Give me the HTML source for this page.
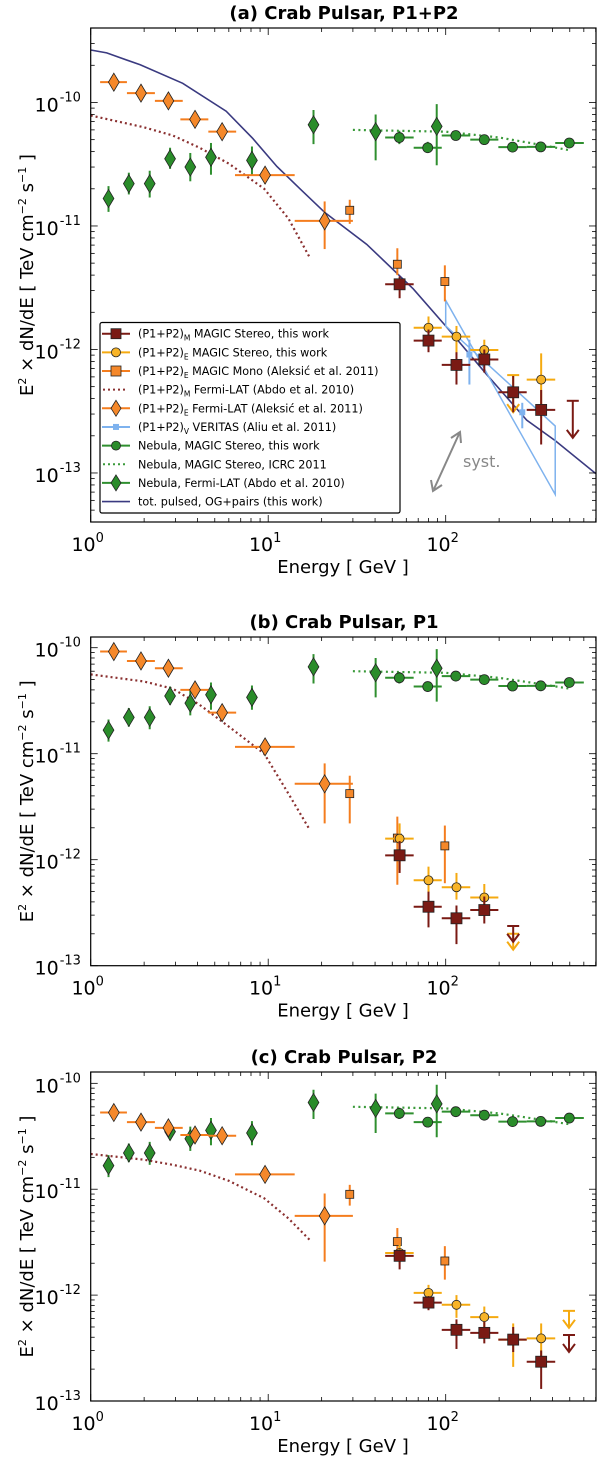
<!DOCTYPE html>
<html><head><meta charset="utf-8"><title>Crab Pulsar spectra</title>
<style>
html,body{margin:0;padding:0;background:#fff;}
svg{display:block;font-family:"DejaVu Sans","Liberation Sans",sans-serif;}
</style></head>
<body>
<svg id="chart" width="600" height="1458" viewBox="0 0 600 1458" xmlns="http://www.w3.org/2000/svg"></svg>
<script>
// ---------- shared data ----------
const nebFermiE=[1.26,1.64,2.15,2.8,3.64,4.76,8.1,18.0,40.3,89];
const nebFermiV=[1.67e-11,2.2e-11,2.2e-11,3.5e-11,3.0e-11,3.6e-11,3.4e-11,6.6e-11,5.8e-11,6.4e-11];
const nebFermiLo=[1.3e-11,1.8e-11,1.7e-11,2.9e-11,2.3e-11,2.6e-11,2.6e-11,4.6e-11,3.4e-11,3.1e-11];
const nebFermiHi=[2.1e-11,2.7e-11,2.8e-11,4.3e-11,3.9e-11,4.7e-11,4.4e-11,8.7e-11,8.0e-11,9.7e-11];
const nebMagicE=[54.8,79.2,114,165,238,343,497];
const nebMagicV=[5.2e-11,4.3e-11,5.4e-11,5.0e-11,4.35e-11,4.37e-11,4.7e-11];
const nebMagicLo=[4.6e-11,3.9e-11,5.0e-11,4.7e-11,4.0e-11,4.0e-11,4.4e-11];
const nebMagicHi=[5.9e-11,4.8e-11,5.8e-11,5.3e-11,4.7e-11,4.7e-11,5.0e-11];
const nebMagicBinLo=[45.6,66,95,137.5,198,286,414];
const nebMagicBinHi=[66,95,137.5,198,286,414,600];
const nebIcrcE=[30,100,200,300,500];
const nebIcrcV=[6.0e-11,5.8e-11,5.2e-11,4.7e-11,4.1e-11];
const fermiE=[1.35,1.92,2.74,3.87,5.5,9.6,20.8];
const fermiBinLo=[1.13,1.6,2.3,3.2,4.6,6.5,14.1];
const fermiBinHi=[1.6,2.3,3.3,4.6,6.6,14.1,30];
const curveE=[1,2,2.9,4.1,6,9.5,13,17.2];
const monoE=[28.8,53.4,98.9];
const stereoBinLo=[45.6,66,95,137.5,198,286,414];
const stereoBinHi=[66,95,137.5,198,286,414,600];
const stereoCenters=[55,80,115,165,240,345,495];
// ---------- panel (a) ----------
const aFermiV=[1.46e-10,1.19e-10,1.03e-10,7.3e-11,5.8e-11,2.58e-11,1.1e-11];
const aFermiLo=[1.38e-10,1.13e-10,0.97e-10,6.8e-11,5.4e-11,2.2e-11,6.5e-12];
const aFermiHi=[1.55e-10,1.26e-10,1.09e-10,7.8e-11,6.2e-11,3.0e-11,1.58e-11];
const aCurveV=[7.85e-11,6.3e-11,5.4e-11,4.3e-11,3.2e-11,2.0e-11,1.15e-11,5.5e-12];
const aMonoV=[1.34e-11,4.9e-12,3.55e-12];
const aMonoLo=[1.04e-11,4.0e-12,2.45e-12];
const aMonoHi=[1.63e-11,6.6e-12,4.8e-12];
const aBrownE=[55,80,115,165,240,345];
const aBrownV=[3.37e-12,1.18e-12,7.5e-13,8.3e-13,4.5e-13,3.24e-13];
const aBrownLo=[2.6e-12,9.5e-13,5.2e-13,6.5e-13,3.1e-13,1.7e-13];
const aBrownHi=[3.9e-12,1.45e-12,9.5e-13,1.0e-12,6.1e-13,4.7e-13];
const aYelE=[80,115,165,345];
const aYelV=[1.5e-12,1.27e-12,9.9e-13,5.7e-13];
const aYelLo=[1.05e-12,9e-13,8.2e-13,2.8e-13];
const aYelHi=[1.85e-12,1.55e-12,1.2e-12,9.3e-13];
const aYelUlE=[240], aYelUlV=[6.2e-13];
const aBrownUlE=[520], aBrownUlV=[3.84e-13];
const verE=[136,270];
const verV=[9.1e-13,3.1e-13];
const verLo=[5.2e-13,2.3e-13];
const verHi=[1.2e-12,3.7e-13];
const verBowE=[100,414];
const verBowSteep=[2.5e-12,6.7e-14];
const verBowFlat=[1.55e-12,2.4e-13];
const modelE=[1,1.23,1.9,3.3,5.8,8.2,11.2,15.1,20.9,35.9,65.6,100,169,286,414,700];
const modelV=[2.66e-10,2.52e-10,2.02e-10,1.43e-10,8.5e-11,5.1e-11,3.03e-11,2.0e-11,1.28e-11,7.1e-12,3.1e-12,1.55e-12,6.35e-13,2.68e-13,1.83e-13,9.9e-14];
// ---------- panel (b) ----------
const bFermiV=[9.2e-11,7.5e-11,6.4e-11,4.0e-11,2.44e-11,1.16e-11,5.2e-12];
const bFermiLo=[8.6e-11,7.0e-11,5.9e-11,3.6e-11,2.2e-11,9.8e-12,2.2e-12];
const bFermiHi=[9.8e-11,8.0e-11,6.9e-11,4.4e-11,2.7e-11,1.35e-11,8.1e-12];
const bCurveV=[5.6e-11,4.8e-11,4.1e-11,2.9e-11,1.8e-11,1.0e-11,4.2e-12,1.9e-12];
const bMonoV=[4.2e-12,1.6e-12,1.35e-12];
const bMonoLo=[2.2e-12,5.8e-13,6e-13];
const bMonoHi=[6.2e-12,2.55e-12,2.1e-12];
const bBrownE=[55,80,115,165];
const bBrownV=[1.1e-12,3.6e-13,2.8e-13,3.35e-13];
const bBrownLo=[7.5e-13,2.3e-13,1.6e-13,2.5e-13];
const bBrownHi=[1.5e-12,5e-13,3.7e-13,4.5e-13];
const bYelE=[55,80,115,165];
const bYelV=[1.58e-12,6.4e-13,5.5e-13,4.4e-13];
const bYelLo=[8e-13,4.9e-13,4.2e-13,3.3e-13];
const bYelHi=[2.2e-12,8.6e-13,7.5e-13,5.9e-13];
const bYelUlE=[240], bYelUlV=[2.0e-13];
const bBrownUlE=[240], bBrownUlV=[2.37e-13];
// ---------- panel (c) ----------
const cFermiV=[5.3e-11,4.3e-11,3.8e-11,3.25e-11,3.2e-11,1.38e-11,5.6e-12];
const cFermiLo=[4.9e-11,4.0e-11,3.5e-11,2.9e-11,2.9e-11,1.2e-11,2.07e-12];
const cFermiHi=[5.7e-11,4.6e-11,4.1e-11,3.6e-11,3.5e-11,1.58e-11,9.1e-12];
const cCurveV=[2.15e-11,1.9e-11,1.7e-11,1.5e-11,1.2e-11,8.2e-12,5.3e-12,3.3e-12];
const cMonoV=[8.95e-12,3.2e-12,2.1e-12];
const cMonoLo=[7.0e-12,2.5e-12,1.4e-12];
const cMonoHi=[1.1e-11,4.3e-12,2.9e-12];
const cBrownE=[55,80,115,165,240,345];
const cBrownV=[2.35e-12,8.5e-13,4.7e-13,4.4e-13,3.8e-13,2.35e-13];
const cBrownLo=[1.75e-12,7.2e-13,3.1e-13,3.5e-13,2.9e-13,1.3e-13];
const cBrownHi=[2.7e-12,9.8e-13,5.9e-13,5.6e-13,5e-13,3.0e-13];
const cYelE=[55,80,115,165,240,345];
const cYelV=[2.5e-12,1.05e-12,8.1e-13,6.2e-13,3.8e-13,3.9e-13];
const cYelLo=[2.0e-12,8.3e-13,6.1e-13,4.9e-13,2.1e-13,2.3e-13];
const cYelHi=[3.0e-12,1.25e-12,1e-12,7.8e-13,5.4e-13,5.4e-13];
const cYelUlE=[495], cYelUlV=[7.1e-13];
const cBrownUlE=[495], cBrownUlV=[4.2e-13];

// ---------- drawing ----------
const NS='http://www.w3.org/2000/svg';
const svg=document.getElementById('chart');
const C={brown:'#7a1a14',yel:'#f8b427',yelL:'#f5aa10',org:'#f5882a',orgL:'#f47d1e',grn:'#2a8c2a',grnL:'#2f8f2f',blue:'#7eb2ee',navy:'#3a3a80',edge:'#222'};
function mk(tag,attrs,parent){const e=document.createElementNS(NS,tag);for(const k in attrs)e.setAttribute(k,attrs[k]);(parent||svg).appendChild(e);return e;}
const XL=90.7, XR=596, DEC=177.5;
function X(E){return XL+Math.log10(E)*DEC;}
function binOf(E){let j=0,b=1e9;stereoCenters.forEach((c,i)=>{const d=Math.abs(Math.log10(c/E));if(d<b){b=d;j=i;}});return j;}

function drawPanel(p){
  const Y=v=>p.top+(p.lt-Math.log10(v))*(p.bot-p.top)/(p.lt-p.lb);
  const g=mk('g',{});
  
  
  const clipId='clip-'+p.id;
  const cp=mk('clipPath',{id:clipId},g);
  mk('rect',{x:XL,y:p.top,width:XR-XL,height:p.bot-p.top},cp);
  const plot=mk('g',{'clip-path':'url(#'+clipId+')'},g);
  
  
  function line(x1,y1,x2,y2,col,w,par){return mk('line',{x1:x1,y1:y1,x2:x2,y2:y2,stroke:col,'stroke-width':w||2},par||plot);}
  function poly(Es,Vs,col,w,dash,name){
    const pts=Es.map((E,i)=>X(E).toFixed(1)+','+Y(Vs[i]).toFixed(1)).join(' ');
    const a={points:pts,fill:'none',stroke:col,'stroke-width':w};
    if(dash)a['stroke-dasharray']=dash;
    const el=mk('polyline',a,plot);
    
    
  }
  function errs(E,V,Lo,Hi,col,bins){
    E.forEach((e,i)=>{
      const x=X(e);
      const l1=line(x,Y(Lo[i]),x,Y(Hi[i]),col,2);
      
      
      if(bins){const b=bins(i,e);const l2=line(X(b[0]),Y(V[i]),X(b[1]),Y(V[i]),col,2);
        
        }
    });
  }
  function marker(type,x,y,fill,s){
    let el;
    if(type==='sq')el=mk('rect',{x:x-s/2,y:y-s/2,width:s,height:s,fill:fill,stroke:C.edge,'stroke-width':0.8},plot);
    else if(type==='ci')el=mk('circle',{cx:x,cy:y,r:s/2,fill:fill,stroke:C.edge,'stroke-width':0.8},plot);
    else el=mk('polygon',{points:`${x},${y-s*0.75} ${x+s*0.45},${y} ${x},${y+s*0.75} ${x-s*0.45},${y}`,fill:fill,stroke:C.edge,'stroke-width':0.8},plot);
    return el;
  }
  function upper(E,V,col,dex){
    E.forEach((e,i)=>{
      const x=X(e),y1=Y(V[i]),y2=Y(V[i]/Math.pow(10,dex));
      const ul=mk('g',{},plot);
      
      
      line(x-6,y1,x+6,y1,col,2,ul);line(x,y1,x,y2,col,2,ul);
      mk('polyline',{points:`${x-6},${y2-8} ${x},${y2} ${x+6},${y2-8}`,fill:'none',stroke:col,'stroke-width':2},ul);
    });
  }
  const stereoBins=(i,e)=>{const j=binOf(e);return [stereoBinLo[j],stereoBinHi[j]];};
  const nebBins=(i)=>[nebMagicBinLo[i],nebMagicBinHi[i]];
  const fermiBins=(i)=>[fermiBinLo[i],fermiBinHi[i]];

  if(p.model){
    poly(modelE,modelV,C.navy,1.6,null,'tot-pulsed-model-line');
    const bow=mk('polygon',{points:[
      X(verBowE[0])+','+Y(verBowSteep[0]),X(verBowE[1])+','+Y(verBowSteep[1]),
      X(verBowE[1])+','+Y(verBowFlat[1]),X(verBowE[0])+','+Y(verBowFlat[0])].join(' '),
      fill:'none',stroke:C.blue,'stroke-width':1.5},plot);
    
    
    errs(verE,verV,verLo,verHi,C.blue,null);
    verE.forEach((e,i)=>{const m=marker('sq',X(e),Y(verV[i]),C.blue,6);m.setAttribute('stroke','none');
      
      });
  }
  poly(curveE,p.curve,'#8a3030',2.2,'2,3','fermi-lat-abdo-curve');
  poly(nebIcrcE,nebIcrcV,'#3a9a3a',2.2,'2,3.5','nebula-icrc-line');
  errs(nebFermiE,nebFermiV,nebFermiLo,nebFermiHi,C.grnL,null);
  nebFermiE.forEach((e,i)=>{const m=marker('di',X(e),Y(nebFermiV[i]),C.grn,12);
    
    });
  errs(nebMagicE,nebMagicV,nebMagicLo,nebMagicHi,C.grnL,nebBins);
  nebMagicE.forEach((e,i)=>{const m=marker('ci',X(e),Y(nebMagicV[i]),C.grn,10);
    
    });
  errs(fermiE,p.fermi,p.fermiLo,p.fermiHi,C.orgL,fermiBins);
  fermiE.forEach((e,i)=>{const m=marker('di',X(e),Y(p.fermi[i]),C.org,12);
    
    });
  errs(monoE,p.mono,p.monoLo,p.monoHi,C.orgL,null);
  monoE.forEach((e,i)=>{const m=marker('sq',X(e),Y(p.mono[i]),C.org,8);
    
    });
  errs(p.yelE,p.yel,p.yelLo,p.yelHi,C.yelL,stereoBins);
  upper(p.yelUlE,p.yelUl,C.yelL,p.arrow);
  p.yelE.forEach((e,i)=>{const m=marker('ci',X(e),Y(p.yel[i]),C.yel,9);
    
    });
  errs(p.brE,p.br,p.brLo,p.brHi,C.brown,stereoBins);
  upper(p.brUlE,p.brUl,C.brown,p.arrow);
  p.brE.forEach((e,i)=>{const m=marker('sq',X(e),Y(p.br[i]),C.brown,11);
    
    });

  const fr=mk('rect',{x:XL,y:p.top,width:XR-XL,height:p.bot-p.top,fill:'none',stroke:'#000','stroke-width':1.2},g);
  
  
  for(let d=0;d<=2;d++){for(let m=1;m<=9;m++){
    const E=m*Math.pow(10,d);const x=X(E);if(x>XR)continue;const L=m===1?7:4;
    line(x,p.bot,x,p.bot-L,'#000',0.8,g);line(x,p.top,x,p.top+L,'#000',0.8,g);
  }}
  for(let d=0;d<=2;d++){
    const t=mk('text',{x:X(Math.pow(10,d))-3,y:p.bot+29,'text-anchor':'middle','font-size':19},g);
    
    
    t.textContent='10';
    const s=mk('tspan',{dy:-9,'font-size':13},t);s.textContent=String(d);
  }
  for(let d=Math.floor(p.lb);d<=Math.ceil(p.lt);d++){for(let m=1;m<=9;m++){
    const v=m*Math.pow(10,d);const lv=Math.log10(v);if(lv<p.lb-1e-6||lv>p.lt)continue;
    const y=Y(v);const L=m===1?7:4;
    line(XL,y,XL+L,y,'#000',0.8,g);line(XR,y,XR-L,y,'#000',0.8,g);
    if(m===1){
      const t=mk('text',{x:XL-32,y:y+9,'text-anchor':'end','font-size':19},g);
      
      
      t.textContent='10';
      const s=mk('tspan',{x:XL-31,dy:-10,'font-size':13,'text-anchor':'start'},t);s.textContent=String(d);
    }
  }}
  const ti=mk('text',{x:344,y:p.top-9,'text-anchor':'middle','font-size':18,'font-weight':'bold'},g);
  
  
  ti.textContent=p.title;
  const xl=mk('text',{x:343,y:p.bot+51,'text-anchor':'middle','font-size':18},g);
  
  
  xl.textContent='Energy [ GeV ]';
  const cy=(p.top+p.bot)/2;
  const yl=mk('text',{x:0,y:0,'text-anchor':'middle','font-size':18,transform:`translate(33,${cy}) rotate(-90)`},g);
  
  
  yl.innerHTML='E<tspan dy="-7" font-size="11">2</tspan><tspan dy="7"> × dN/dE  [ TeV cm</tspan><tspan dy="-7" font-size="11">−2</tspan><tspan dy="7"> s</tspan><tspan dy="-7" font-size="11">−1</tspan><tspan dy="7"> ]</tspan>';
  return {g,Y};
}

drawPanel({id:'panel-a',title:'(a) Crab Pulsar, P1+P2',top:28,bot:522,lt:-9.397,lb:-13.397,model:true,arrow:0.3,
  curve:aCurveV,fermi:aFermiV,fermiLo:aFermiLo,fermiHi:aFermiHi,mono:aMonoV,monoLo:aMonoLo,monoHi:aMonoHi,
  yelE:aYelE,yel:aYelV,yelLo:aYelLo,yelHi:aYelHi,yelUlE:aYelUlE,yelUl:aYelUlV,
  brE:aBrownE,br:aBrownV,brLo:aBrownLo,brHi:aBrownHi,brUlE:aBrownUlE,brUl:aBrownUlV});
drawPanel({id:'panel-b',title:'(b) Crab Pulsar, P1',top:637,bot:965.7,lt:-9.899,lb:-13,model:false,arrow:0.15,
  curve:bCurveV,fermi:bFermiV,fermiLo:bFermiLo,fermiHi:bFermiHi,mono:bMonoV,monoLo:bMonoLo,monoHi:bMonoHi,
  yelE:bYelE,yel:bYelV,yelLo:bYelLo,yelHi:bYelHi,yelUlE:bYelUlE,yelUl:bYelUlV,
  brE:bBrownE,br:bBrownV,brLo:bBrownLo,brHi:bBrownHi,brUlE:bBrownUlE,brUl:bBrownUlV});
drawPanel({id:'panel-c',title:'(c) Crab Pulsar, P2',top:1072,bot:1401,lt:-9.893,lb:-13,model:false,arrow:0.16,
  curve:cCurveV,fermi:cFermiV,fermiLo:cFermiLo,fermiHi:cFermiHi,mono:cMonoV,monoLo:cMonoLo,monoHi:cMonoHi,
  yelE:cYelE,yel:cYelV,yelLo:cYelLo,yelHi:cYelHi,yelUlE:cYelUlE,yelUl:cYelUlV,
  brE:cBrownE,br:cBrownV,brLo:cBrownLo,brHi:cBrownHi,brUlE:cBrownUlE,brUl:cBrownUlV});

const sy=mk('g',{});


mk('line',{x1:434,y1:489,x2:459,y2:434,stroke:'#888','stroke-width':2},sy);
mk('polyline',{points:'431,480 433,491 442,485',fill:'none',stroke:'#888','stroke-width':2},sy);
mk('polyline',{points:'451,438 460,432 461,443',fill:'none',stroke:'#888','stroke-width':2},sy);
const st=mk('text',{x:463,y:467,'font-size':16,fill:'#888'});


st.textContent='syst.';

const leg=mk('g',{});


mk('rect',{x:100,y:322.5,width:300,height:190.5,fill:'#fff',stroke:'#000','stroke-width':1.2,rx:2},leg);
const legItems=[
 {c:C.brown,m:'sq',f:C.brown,t:['(P1+P2)','M',' MAGIC Stereo, this work']},
 {c:C.yelL,m:'ci',f:C.yel,t:['(P1+P2)','E',' MAGIC Stereo, this work']},
 {c:C.orgL,m:'sq',f:C.org,t:['(P1+P2)','E',' MAGIC Mono (Aleksić et al. 2011)']},
 {c:'#8a3030',m:'dot',t:['(P1+P2)','M',' Fermi-LAT (Abdo et al. 2010)']},
 {c:C.orgL,m:'di',f:C.org,t:['(P1+P2)','E',' Fermi-LAT (Aleksić et al. 2011)']},
 {c:C.blue,m:'sqs',f:C.blue,t:['(P1+P2)','V',' VERITAS (Aliu et al. 2011)']},
 {c:C.grnL,m:'ci',f:C.grn,t:['Nebula, MAGIC Stereo, this work']},
 {c:'#3a9a3a',m:'dot',t:['Nebula, MAGIC Stereo, ICRC 2011']},
 {c:C.grnL,m:'di',f:C.grn,t:['Nebula, Fermi-LAT (Abdo et al. 2010)']},
 {c:C.navy,m:'line',t:['tot. pulsed, OG+pairs (this work)']}
];
legItems.forEach((it,i)=>{
  const y=333.7+i*18.65;
  const e=mk('g',{},leg);
  
  
  if(it.m==='dot')mk('line',{x1:103,y1:y,x2:128,y2:y,stroke:it.c,'stroke-width':2,'stroke-dasharray':'2,3'},e);
  else mk('line',{x1:102,y1:y,x2:130,y2:y,stroke:it.c,'stroke-width':it.m==='line'?1.6:2},e);
  const x=116;
  if(it.m==='sq')mk('rect',{x:x-5,y:y-5,width:10,height:10,fill:it.f,stroke:C.edge,'stroke-width':0.8},e);
  if(it.m==='sqs')mk('rect',{x:x-3,y:y-3,width:6,height:6,fill:it.f},e);
  if(it.m==='ci')mk('circle',{cx:x,cy:y,r:4.5,fill:it.f,stroke:C.edge,'stroke-width':0.8},e);
  if(it.m==='di')mk('polygon',{points:`${x},${y-8} ${x+5},${y} ${x},${y+8} ${x-5},${y}`,fill:it.f,stroke:C.edge,'stroke-width':0.8},e);
  const t=mk('text',{x:138,y:y+4,'font-size':11.2},e);
  if(it.t.length===1)t.textContent=it.t[0];
  else{
    const a=mk('tspan',{},t);a.textContent=it.t[0];
    const b=mk('tspan',{dy:3,'font-size':7.5},t);b.textContent=it.t[1];
    const c=mk('tspan',{dy:-3},t);c.textContent=it.t[2];
  }
});
</script>
</body></html>
